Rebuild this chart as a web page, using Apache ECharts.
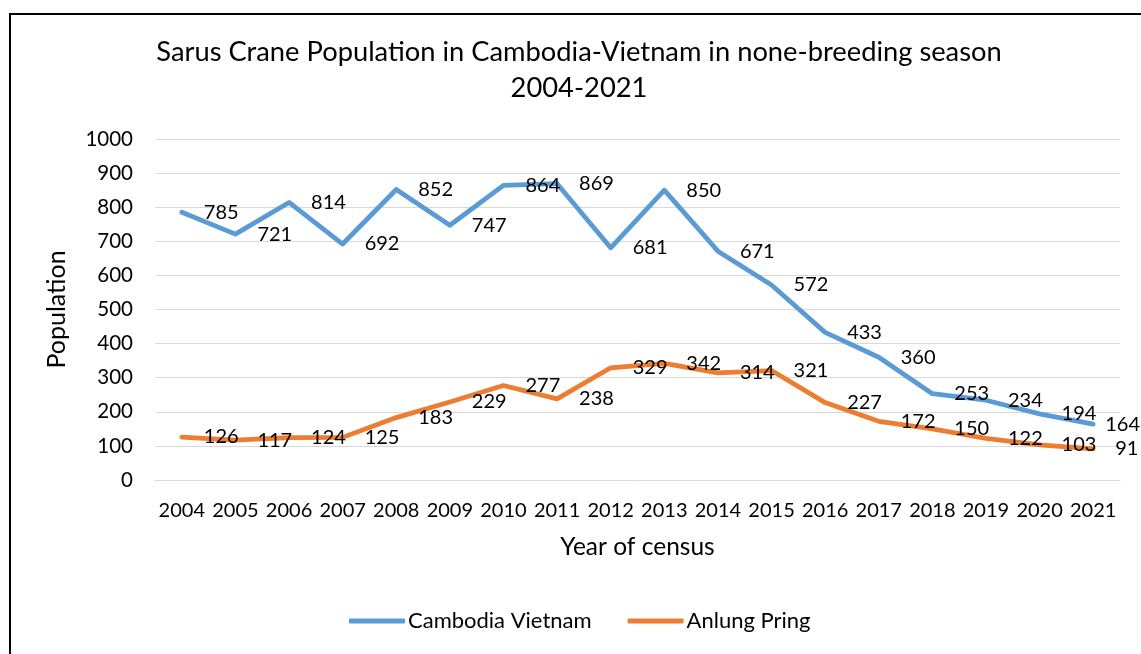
<!DOCTYPE html>
<html>
<head>
<meta charset="utf-8">
<title>Sarus Crane Population</title>
<script src="https://cdn.jsdelivr.net/npm/echarts@6/dist/echarts.min.js"></script>
<style>
  html, body { margin: 0; padding: 0; background: #fff; }
  #chart { width: 1141px; height: 654px; }
</style>
</head>
<body>
<div id="chart"></div>
<script>
// Census years and counts per site
const years = ['2004', '2005', '2006', '2007', '2008', '2009', '2010', '2011', '2012',
               '2013', '2014', '2015', '2016', '2017', '2018', '2019', '2020', '2021'];
const cambodiaVietnam = [785, 721, 814, 692, 852, 747, 864, 869, 681, 850, 671, 572, 433, 360, 253, 234, 194, 164];
const anlungPring = [126, 117, 124, 125, 183, 229, 277, 238, 329, 342, 314, 321, 227, 172, 150, 122, 103, 91];
const yTicks = [0, 100, 200, 300, 400, 500, 600, 700, 800, 900, 1000];

const FONT = 'Lato, "Open Sans", sans-serif';
const BLUE = '#5B9BD5';
const ORANGE = '#ED7D31';

// last label in each series is pulled in to stay inside the frame
function withLabels(values, lastDistance) {
  return values.map((v, i) => i === values.length - 1
    ? { value: v, label: { distance: lastDistance } }
    : v);
}

function lineSeries(name, values, color, lastDistance) {
  return {
    name: name,
    type: 'line',
    data: withLabels(values, lastDistance),
    symbol: 'circle',
    symbolSize: 0,
    showSymbol: true,
    color: color,
    itemStyle: { color: color },
    lineStyle: { color: color, width: 4.75, cap: 'round', join: 'round' },
    label: { show: true, position: 'right', distance: 22, fontFamily: FONT, fontSize: 20, color: '#000' },
    labelLayout: { hideOverlap: false }
  };
}

const chart = echarts.init(document.getElementById('chart'), null, { renderer: 'canvas' });

chart.setOption({
  animation: false,
  backgroundColor: '#fff',
  textStyle: { fontFamily: FONT },
  graphic: [
    {
      type: 'rect', silent: true, z: -1,
      shape: { x: 10, y: 14, width: 1200, height: 700 },
      style: { fill: 'none', stroke: '#000', lineWidth: 2 }
    },
    {
      type: 'text', silent: true,
      style: {
        x: 579, y: 34, textAlign: 'center', textVerticalAlign: 'top',
        text: 'Sarus Crane Population in Cambodia-Vietnam in none-breeding season\n2004-2021',
        font: '27.3px ' + FONT, fill: '#000', lineHeight: 36
      }
    }
  ],
  legend: {
    left: 349, top: 610, padding: 0,
    itemWidth: 56, itemHeight: 5, itemGap: 36,
    icon: 'roundRect',
    textStyle: { fontFamily: FONT, fontSize: 22, color: '#000', padding: [0, 0, 0, -2] },
    data: ['Cambodia Vietnam', 'Anlung Pring']
  },
  grid: { left: 155, right: 21, top: 139, bottom: 174, containLabel: false },
  xAxis: {
    type: 'category',
    data: years,
    boundaryGap: true,
    name: 'Year of census',
    nameLocation: 'middle',
    nameGap: 55,
    nameTextStyle: { fontFamily: FONT, fontSize: 24.5, color: '#000' },
    axisLine: { show: true, lineStyle: { color: '#D9D9D9', width: 1 } },
    axisTick: { show: false },
    axisLabel: { fontFamily: FONT, fontSize: 20, color: '#000', margin: 21, interval: 0 }
  },
  yAxis: {
    type: 'value',
    min: yTicks[0],
    max: yTicks[yTicks.length - 1],
    interval: yTicks[1] - yTicks[0],
    name: 'Population',
    nameLocation: 'middle',
    nameRotate: 90,
    nameGap: 86,
    nameTextStyle: { fontFamily: FONT, fontSize: 25, color: '#000' },
    axisLine: { show: false },
    axisTick: { show: false },
    splitLine: { lineStyle: { color: '#D9D9D9', width: 1 } },
    axisLabel: { fontFamily: FONT, fontSize: 20.5, color: '#000', margin: 22, formatter: v => String(v) }
  },
  series: [
    lineSeries('Cambodia Vietnam', cambodiaVietnam, BLUE, 12),
    lineSeries('Anlung Pring', anlungPring, ORANGE, 22)
  ]
});
</script>
</body>
</html>
